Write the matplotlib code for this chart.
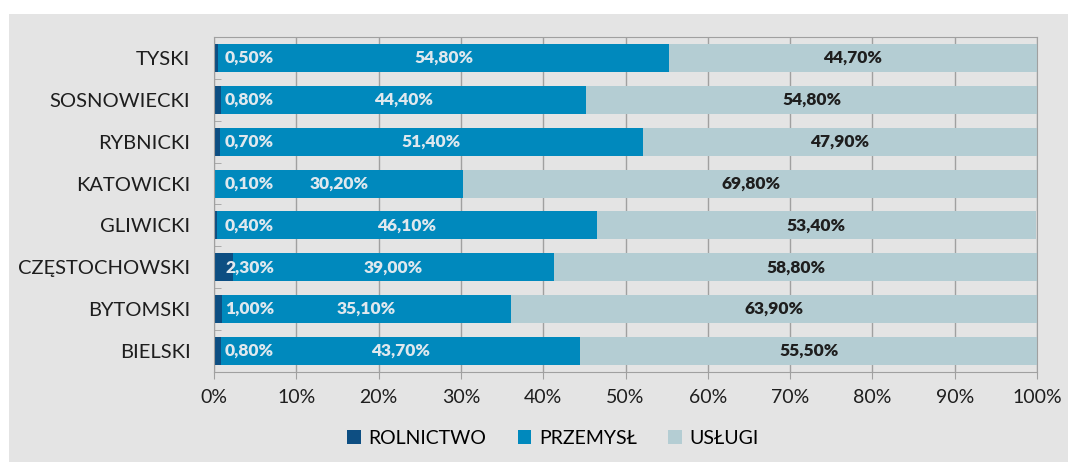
import numpy as np
from matplotlib import pyplot
from matplotlib.patches import Rectangle

regions = ['TYSKI', 'SOSNOWIECKI', 'RYBNICKI', 'KATOWICKI', 'GLIWICKI',
           'CZĘSTOCHOWSKI', 'BYTOMSKI', 'BIELSKI']
rolnictwo = [0.5, 0.8, 0.7, 0.1, 0.4, 2.3, 1.0, 0.8]
przemysl = [54.8, 44.4, 51.4, 30.2, 46.1, 39.0, 35.1, 43.7]
uslugi = [44.7, 54.8, 47.9, 69.8, 53.4, 58.8, 63.9, 55.5]
series_names = ['ROLNICTWO', 'PRZEMYSŁ', 'USŁUGI']
colors = ['#0d4e82', '#0089bd', '#b4cdd3']
bg = '#e4e4e4'

pyplot.rc('font', family=['Lato', 'DejaVu Sans'], size=14)
fig = pyplot.figure(figsize=(10.68, 4.62), dpi=100, facecolor='white')
fig.patches.append(Rectangle((9 / 1068, 0), 1, 1 - 14 / 462,
                             transform=fig.transFigure, facecolor=bg,
                             edgecolor='none', zorder=-10))
ax = fig.add_axes([214 / 1068, 90 / 462, 823 / 1068, 335 / 462])
ax.set_facecolor(bg)

y = np.arange(len(regions))[::-1]
h = 0.67
r = np.array(rolnictwo)
p = np.array(przemysl)
u = np.array(uslugi)
ax.barh(y, r, height=h, color=colors[0], label=series_names[0], zorder=2)
ax.barh(y, p, left=r, height=h, color=colors[1], label=series_names[1], zorder=2)
ax.barh(y, u, left=r + p, height=h, color=colors[2], label=series_names[2], zorder=2)

fmt = lambda v: f'{v:.2f}%'.replace('.', ',')
lbl = dict(va='center', fontsize=12.5, fontweight='heavy', zorder=3)
for yi, rv, pv, uv in zip(y, r, p, u):
    ax.text(1.35, yi, fmt(rv), ha='left', color='#dfe8ee', **lbl)
    ax.text(rv + pv / 2, yi, fmt(pv), ha='center', color='#dfe8ee', **lbl)
    ax.text(rv + pv + uv / 2, yi, fmt(uv), ha='center', color='#1e1e1e', **lbl)

ax.set_xlim(0, 100)
ax.set_ylim(-0.5, len(regions) - 0.5)
ax.set_xticks(np.arange(0, 101, 10))
ax.set_xticklabels([f'{v}%' for v in range(0, 101, 10)])
ax.set_yticks(y)
ax.set_yticklabels(regions, fontsize=14.5)
ax.set_yticks(np.arange(len(regions) + 1) - 0.5, minor=True)
ax.tick_params(axis='y', which='major', length=0, pad=17, colors='#1e1e1e')
ax.tick_params(axis='y', which='minor', length=5, direction='in', color='#a0a0a0')
ax.tick_params(axis='x', length=5, color='#a0a0a0', pad=7, labelcolor='#1e1e1e')
ax.grid(axis='x', color='#a0a0a0', linewidth=1, zorder=1)
ax.set_axisbelow(True)
for s in ax.spines.values():
    s.set_color('#a0a0a0')

ax.legend(loc='center', bbox_to_anchor=(553 / 1068, 24 / 462),
          bbox_transform=fig.transFigure, ncol=3, frameon=False,
          handlelength=0.7, handleheight=0.7, handletextpad=0.4,
          columnspacing=1.6, fontsize=14)

fig.savefig('out.png', dpi=100, facecolor=fig.get_facecolor())
